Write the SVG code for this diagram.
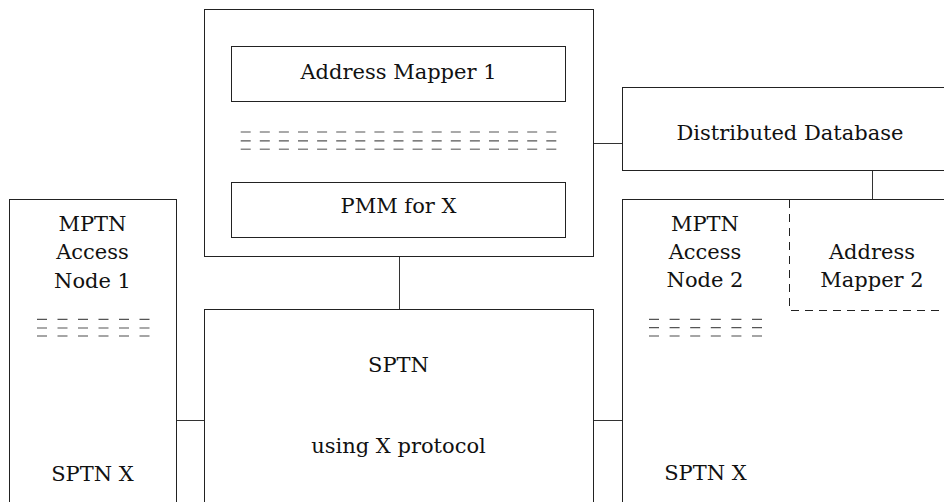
<svg xmlns="http://www.w3.org/2000/svg" width="944" height="502" viewBox="0 0 944 502">
<style>
.box{fill:#fff;stroke:#222;stroke-width:1}
.dbox{fill:none;stroke:#222;stroke-width:1;stroke-dasharray:8 6}
.conn{stroke:#333;stroke-width:1;fill:none}
.t{font-family:"DejaVu Serif","Liberation Serif",serif;font-size:21px;fill:#111;text-anchor:middle}
.dl{stroke:#555;stroke-width:1.2;fill:none}
.dl3{stroke:#888;stroke-width:1.4;fill:none}
</style>
<rect width="944" height="502" fill="#fff"/>
<g id="connectors">
<line class="conn" x1="399.5" y1="257" x2="399.5" y2="309"/>
<line class="conn" x1="593" y1="143.5" x2="622" y2="143.5"/>
<line class="conn" x1="872.5" y1="171" x2="872.5" y2="199"/>
<line class="conn" x1="177" y1="420.5" x2="204" y2="420.5"/>
<line class="conn" x1="593" y1="420.5" x2="622" y2="420.5"/>
</g>
<g id="mapper-host">
<rect class="box" x="204.5" y="9.5" width="389" height="247"/>
<g id="address-mapper-1">
<rect class="box" x="231.5" y="46.5" width="334" height="55"/>
<text class="t" x="398.5" y="79">Address Mapper 1</text>
</g>
<g id="mapper-dots">
<line class="dl" x1="240.7" y1="132" x2="557" y2="132" stroke-dasharray="10 9.1"/>
<line class="dl" x1="240.7" y1="140.8" x2="557" y2="140.8" stroke-dasharray="10 9.1"/>
<line class="dl3" x1="240.7" y1="149.3" x2="557" y2="149.3" stroke-dasharray="10 9.1"/>
</g>
<g id="pmm">
<rect class="box" x="231.5" y="182.5" width="334" height="55"/>
<text class="t" x="398.5" y="212.5">PMM for X</text>
</g>
</g>
<g id="distributed-database">
<rect class="box" x="622.5" y="87.5" width="340" height="83"/>
<text class="t" x="790" y="140">Distributed Database</text>
</g>
<g id="access-node-1">
<rect class="box" x="9.5" y="199.5" width="167" height="320"/>
<text class="t" x="92.5" y="230.5">MPTN</text>
<text class="t" x="92.5" y="259">Access</text>
<text class="t" x="92.5" y="287.5">Node 1</text>
<line class="dl" x1="37" y1="319.3" x2="150" y2="319.3" stroke-dasharray="10 10.5"/>
<line class="dl" x1="37" y1="328" x2="150" y2="328" stroke-dasharray="10 10.5"/>
<line class="dl3" x1="37" y1="336" x2="150" y2="336" stroke-dasharray="10 10.5"/>
<text class="t" x="92.5" y="481">SPTN X</text>
</g>
<g id="sptn">
<rect class="box" x="204.5" y="309.5" width="389" height="210"/>
<text class="t" x="398.5" y="372">SPTN</text>
<text class="t" x="398.5" y="453">using X protocol</text>
</g>
<g id="access-node-2">
<rect class="box" x="622.5" y="199.5" width="340" height="320"/>
<text class="t" x="705" y="230.5">MPTN</text>
<text class="t" x="705" y="259">Access</text>
<text class="t" x="705" y="287">Node 2</text>
<line class="dl" x1="649" y1="319.3" x2="763" y2="319.3" stroke-dasharray="10 10.6"/>
<line class="dl" x1="649" y1="327.7" x2="763" y2="327.7" stroke-dasharray="10 10.6"/>
<line class="dl3" x1="649" y1="336" x2="763" y2="336" stroke-dasharray="10 10.6"/>
<text class="t" x="705.5" y="480">SPTN X</text>
</g>
<g id="address-mapper-2">
<path class="dbox" d="M789.5 200 V310.5 H944"/>
<text class="t" x="872" y="259">Address</text>
<text class="t" x="872" y="287">Mapper 2</text>
</g>
</svg>
